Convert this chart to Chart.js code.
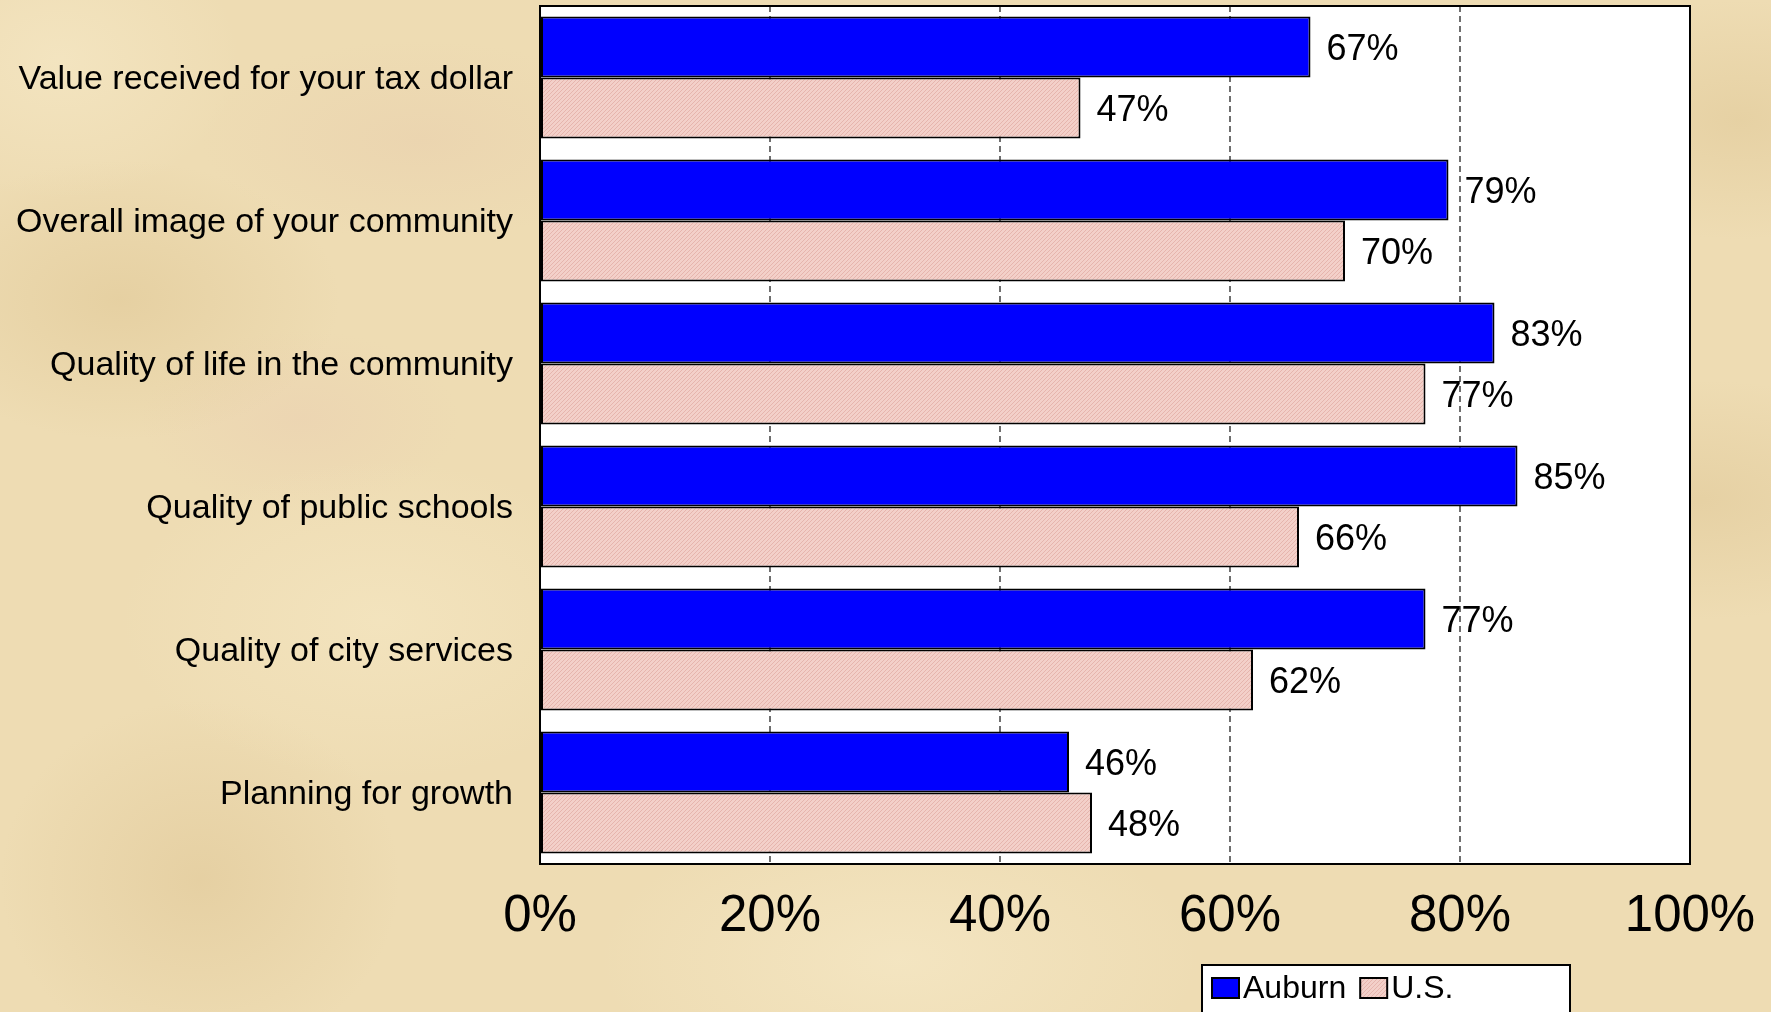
<!DOCTYPE html>
<html>
<head>
<meta charset="utf-8">
<title>Auburn vs U.S.</title>
<script src="https://cdn.jsdelivr.net/npm/chart.js@4.4.1/dist/chart.umd.min.js"></script>
<style>
  html, body { margin: 0; padding: 0; }
  body {
    width: 1771px; height: 1012px; overflow: hidden;
    background-color: #eedcb3;
    background-image:
      radial-gradient(ellipse 220px 140px at 120px 300px, rgba(214,186,130,0.35), transparent),
      radial-gradient(ellipse 260px 160px at 380px 620px, rgba(246,232,196,0.6), transparent),
      radial-gradient(ellipse 200px 180px at 200px 880px, rgba(210,180,125,0.3), transparent),
      radial-gradient(ellipse 240px 120px at 1700px 500px, rgba(215,188,135,0.35), transparent),
      radial-gradient(ellipse 300px 150px at 900px 960px, rgba(248,236,204,0.55), transparent),
      radial-gradient(ellipse 180px 140px at 60px 60px, rgba(248,236,204,0.5), transparent),
      radial-gradient(ellipse 200px 120px at 1740px 120px, rgba(212,184,128,0.3), transparent),
      radial-gradient(ellipse 220px 100px at 420px 140px, rgba(230,200,170,0.35), transparent),
      radial-gradient(ellipse 160px 90px at 300px 420px, rgba(232,198,176,0.3), transparent);
  }
  canvas { display: block; }
</style>
</head>
<body>
<canvas id="chart" width="1771" height="1012"></canvas>
<script>
// dados
const categorias = [
  'Value received for your tax dollar',
  'Overall image of your community',
  'Quality of life in the community',
  'Quality of public schools',
  'Quality of city services',
  'Planning for growth'
];
const series = ['Auburn', 'U.S.'];
const auburn = [67, 79, 83, 85, 77, 46];
const us = [47, 70, 77, 66, 62, 48];
const xTicks = [0, 20, 40, 60, 80, 100];

const FONT = "'Liberation Sans', Arial, sans-serif";

// padrão rosado hachurado das barras U.S.
function pinkPattern() {
  const c = document.createElement('canvas');
  c.width = 4; c.height = 4;
  const g = c.getContext('2d');
  g.fillStyle = '#f3d0c9';
  g.fillRect(0, 0, 4, 4);
  g.strokeStyle = '#e6b5ad';
  g.lineWidth = 1;
  g.beginPath();
  g.moveTo(0, 4); g.lineTo(4, 0);
  g.moveTo(-2, 2); g.lineTo(2, -2);
  g.moveTo(2, 6); g.lineTo(6, 2);
  g.stroke();
  return g.createPattern(c, 'repeat');
}
const ctx = document.getElementById('chart').getContext('2d');
const pink = pinkPattern();

// fundo branco e moldura da área do gráfico
const plotFrame = {
  id: 'plotFrame',
  beforeDraw(chart) {
    const a = chart.chartArea, c = chart.ctx;
    c.save();
    c.fillStyle = '#ffffff';
    c.fillRect(a.left, a.top, a.right - a.left, a.bottom - a.top);
    c.restore();
  },
  afterDraw(chart) {
    const a = chart.chartArea, c = chart.ctx;
    c.save();
    c.strokeStyle = '#000';
    c.lineWidth = 2;
    c.strokeRect(a.left, a.top, a.right - a.left, a.bottom - a.top);
    c.restore();
  }
};

// rótulos de valor à direita das barras
const valueLabels = {
  id: 'valueLabels',
  afterDatasetsDraw(chart) {
    const c = chart.ctx;
    c.save();
    c.font = '36px ' + FONT;
    c.fillStyle = '#000';
    c.textAlign = 'left';
    c.textBaseline = 'middle';
    chart.data.datasets.forEach((ds, i) => {
      chart.getDatasetMeta(i).data.forEach((bar, j) => {
        c.fillText(ds.data[j] + '%', bar.x + 16, bar.y + 3);
      });
    });
    c.restore();
  }
};

// legenda em caixa branca
const boxLegend = {
  id: 'boxLegend',
  afterDraw(chart) {
    const c = chart.ctx;
    const x0 = 1202, y0 = 965, w = 368, h = 50;
    c.save();
    c.fillStyle = '#fff';
    c.fillRect(x0, y0, w, h);
    c.strokeStyle = '#000';
    c.lineWidth = 2;
    c.strokeRect(x0, y0, w, h);
    c.font = '32px ' + FONT;
    c.textBaseline = 'middle';
    c.textAlign = 'left';
    let x = x0 + 10;
    chart.data.datasets.forEach(ds => {
      c.fillStyle = ds.backgroundColor;
      c.fillRect(x, 978, 27, 20);
      c.lineWidth = 2;
      c.strokeStyle = '#000';
      c.strokeRect(x, 978, 27, 20);
      c.fillStyle = '#000';
      c.fillText(ds.label, x + 31, 989);
      x += 31 + c.measureText(ds.label).width + 14;
    });
    c.restore();
  }
};

new Chart(ctx, {
  type: 'bar',
  data: {
    labels: categorias,
    datasets: [
      { label: series[0], data: auburn, backgroundColor: '#0000ff' },
      { label: series[1], data: us, backgroundColor: pink }
    ]
  },
  options: {
    indexAxis: 'y',
    responsive: false,
    animation: false,
    devicePixelRatio: 1,
    layout: { padding: { top: 6, right: 81, bottom: 0, left: 0 } },
    datasets: {
      bar: {
        categoryPercentage: 0.853,
        barPercentage: 1,
        borderColor: '#000',
        borderWidth: 2,
        borderSkipped: false
      }
    },
    plugins: {
      legend: { display: false },
      tooltip: { enabled: false }
    },
    scales: {
      x: {
        min: 0,
        max: 100,
        afterBuildTicks(scale) { scale.ticks = xTicks.map(v => ({ value: v })); },
        afterFit(scale) {
          scale.height = 148;
          scale.paddingLeft = 0;
          scale.paddingRight = 0;
        },
        grid: {
          color: ctx => (ctx.tick && (ctx.tick.value === 0 || ctx.tick.value === 100)) ? 'rgba(0,0,0,0)' : '#6e6e6e',
          lineWidth: 2,
          drawTicks: false
        },
        border: { display: false, dash: [6, 4] },
        ticks: {
          padding: 22,
          color: '#000',
          font: { family: FONT, size: 51 },
          callback: v => v + '%'
        }
      },
      y: {
        afterFit(scale) {
          scale.width = 540;
          scale.paddingTop = 0;
          scale.paddingBottom = 0;
        },
        border: { display: false },
        grid: { display: false, drawTicks: false },
        ticks: {
          padding: 27,
          labelOffset: 2,
          color: '#000',
          font: { family: FONT, size: 34 }
        }
      }
    }
  },
  plugins: [plotFrame, valueLabels, boxLegend]
});
</script>
</body>
</html>
